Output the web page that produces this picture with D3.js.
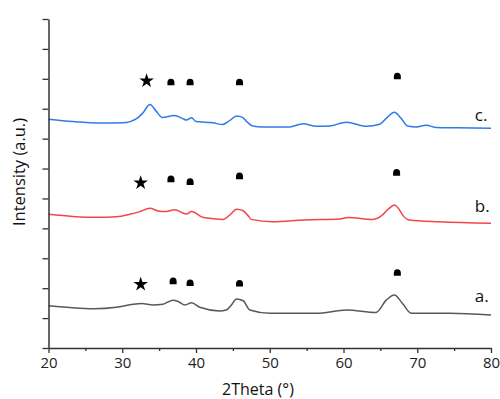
<!DOCTYPE html>
<html><head><meta charset="utf-8">
<script src="https://cdn.jsdelivr.net/npm/d3@7"></script>
<style>body{margin:0;background:#fff}</style>
</head><body><svg id="chart" width="500" height="399"></svg>
<script>
// ---- data ----
const xTicks = [20, 30, 40, 50, 60, 70, 80];
const yTickValues = [0,1,2,3,4,5,6,7,8,9,10,11];
const seriesNames = ["a.", "b.", "c."];

const cTheta = [20,23.3,27.0,30.1,32.0,32.8,33.75,34.6,35.4,37.1,38.2,38.7,39.4,40.0,42.3,43.6,44.6,45.5,46.3,47.0,47.7,49.0,52.7,54.5,56.3,58.1,60.4,63.1,64.9,66.0,66.9,67.8,68.7,69.9,71.2,72.6,75.3,80];
const cInt   = [7.65,7.57,7.52,7.53,7.68,7.86,8.14,7.92,7.71,7.77,7.67,7.62,7.70,7.57,7.53,7.47,7.61,7.76,7.71,7.54,7.42,7.39,7.39,7.50,7.41,7.42,7.55,7.41,7.48,7.73,7.88,7.68,7.42,7.39,7.45,7.37,7.36,7.35];

const bTheta = [20,23.3,26.6,29.2,31.0,32.4,33.75,34.9,35.8,37.1,38.7,39.4,41.0,43.7,44.6,45.5,46.4,47.1,47.5,50.4,54.7,59.5,60.6,64.0,65.3,66.1,66.9,67.5,68.0,68.9,73.0,80];
const bInt   = [4.47,4.40,4.37,4.39,4.47,4.56,4.67,4.58,4.56,4.62,4.48,4.56,4.36,4.30,4.45,4.64,4.59,4.41,4.30,4.22,4.28,4.31,4.36,4.30,4.45,4.65,4.78,4.65,4.45,4.28,4.22,4.17];

const aTheta = [20,22.5,26.1,29.2,31.5,32.6,34.2,35.5,36.2,36.9,37.7,38.5,39.4,40.5,43.2,44.1,44.8,45.5,46.4,47.3,50.0,56.3,60.4,64.4,65.8,66.9,68.0,69.2,74.4,80];
const aInt   = [1.41,1.36,1.31,1.36,1.46,1.49,1.44,1.46,1.54,1.60,1.54,1.44,1.51,1.36,1.24,1.27,1.44,1.64,1.58,1.27,1.16,1.16,1.27,1.19,1.60,1.77,1.49,1.16,1.16,1.10];

const starTheta = [33.3, 32.5, 32.5];
const starInt   = [8.93, 5.52, 2.13];
const dotTheta  = [36.6, 39.2, 45.9, 67.3, 36.6, 39.2, 45.9, 67.2, 36.9, 39.2, 45.9, 67.3];
const dotInt    = [8.89, 8.89, 8.89, 9.09, 5.65, 5.56, 5.75, 5.87, 2.24, 2.18, 2.16, 2.52];

const labelTheta = [77.8, 77.8, 77.8];
const labelInt   = [1.55, 4.55, 7.6];

// ---- layout ----
const svg = d3.select("#chart");
const x = d3.scaleLinear().domain([20, 80]).range([48.5, 491]);
const y = d3.scaleLinear().domain([0, 11]).range([348, 19]);
const font = "'Open Sans', 'Liberation Sans', sans-serif";

const series = [
  {theta: aTheta, val: aInt, color: "#595959"},
  {theta: bTheta, val: bInt, color: "#f2454a"},
  {theta: cTheta, val: cInt, color: "#2f7be6"}
];
const line = d3.line().x(d => x(d[0])).y(d => y(d[1])).curve(d3.curveMonotoneX);
series.forEach(s => {
  svg.append("path")
    .datum(s.theta.map((t, i) => [t, s.val[i]]))
    .attr("fill", "none").attr("stroke", s.color).attr("stroke-width", 1.5)
    .attr("d", line);
});

// axes
const xAxis = svg.append("g").attr("transform", "translate(0,348)")
  .call(d3.axisBottom(x).tickValues(xTicks).tickSize(5).tickSizeOuter(0).tickPadding(4));
const xMinor = svg.append("g").attr("transform", "translate(0,348)")
  .call(d3.axisBottom(x).tickValues([25,35,45,55,65,75]).tickSize(3).tickSizeOuter(0).tickFormat(""));
xMinor.select(".domain").remove();
const yAxis = svg.append("g").attr("transform", "translate(48.5,0)")
  .call(d3.axisLeft(y).tickValues(yTickValues).tickSize(6).tickSizeOuter(0).tickFormat(""));
[xAxis, xMinor, yAxis].forEach(g => {
  g.selectAll(".domain").attr("stroke", "#333").attr("stroke-width", 1.5);
  g.selectAll(".tick line").attr("stroke", "#333").attr("stroke-width", 1.3);
});
xAxis.selectAll("text").attr("font-family", font).attr("font-size", 15).attr("fill", "#222");

// markers
const starSym = d3.symbol().type(d3.symbolStar).size(66);
svg.selectAll(".star").data(starTheta).join("path")
  .attr("d", starSym)
  .attr("transform", (t, i) => `translate(${x(t)},${y(starInt[i])})`)
  .attr("fill", "#000");
const dome = "M-3.5,3.2 L-3.5,0.5 A3.5,3.9 0 0 1 3.5,0.5 L3.5,3.2 Z";
svg.selectAll(".dot").data(dotTheta).join("path")
  .attr("d", dome)
  .attr("transform", (t, i) => `translate(${x(t)},${y(dotInt[i])})`)
  .attr("fill", "#000");

// series labels
svg.selectAll(".lab").data(seriesNames).join("text")
  .attr("x", (d, i) => x(labelTheta[i])).attr("y", (d, i) => y(labelInt[i]))
  .attr("font-family", font).attr("font-size", 17).attr("fill", "#111")
  .text(d => d);

// axis titles
svg.append("text").attr("x", 258).attr("y", 395).attr("text-anchor", "middle")
  .attr("font-family", font).attr("font-size", 16).attr("fill", "#111").text("2Theta (°)");
svg.append("text").attr("transform", "translate(25,172) rotate(-90)").attr("text-anchor", "middle")
  .attr("font-family", font).attr("font-size", 16.5).attr("fill", "#111").text("Intensity (a.u.)");
</script></body></html>
